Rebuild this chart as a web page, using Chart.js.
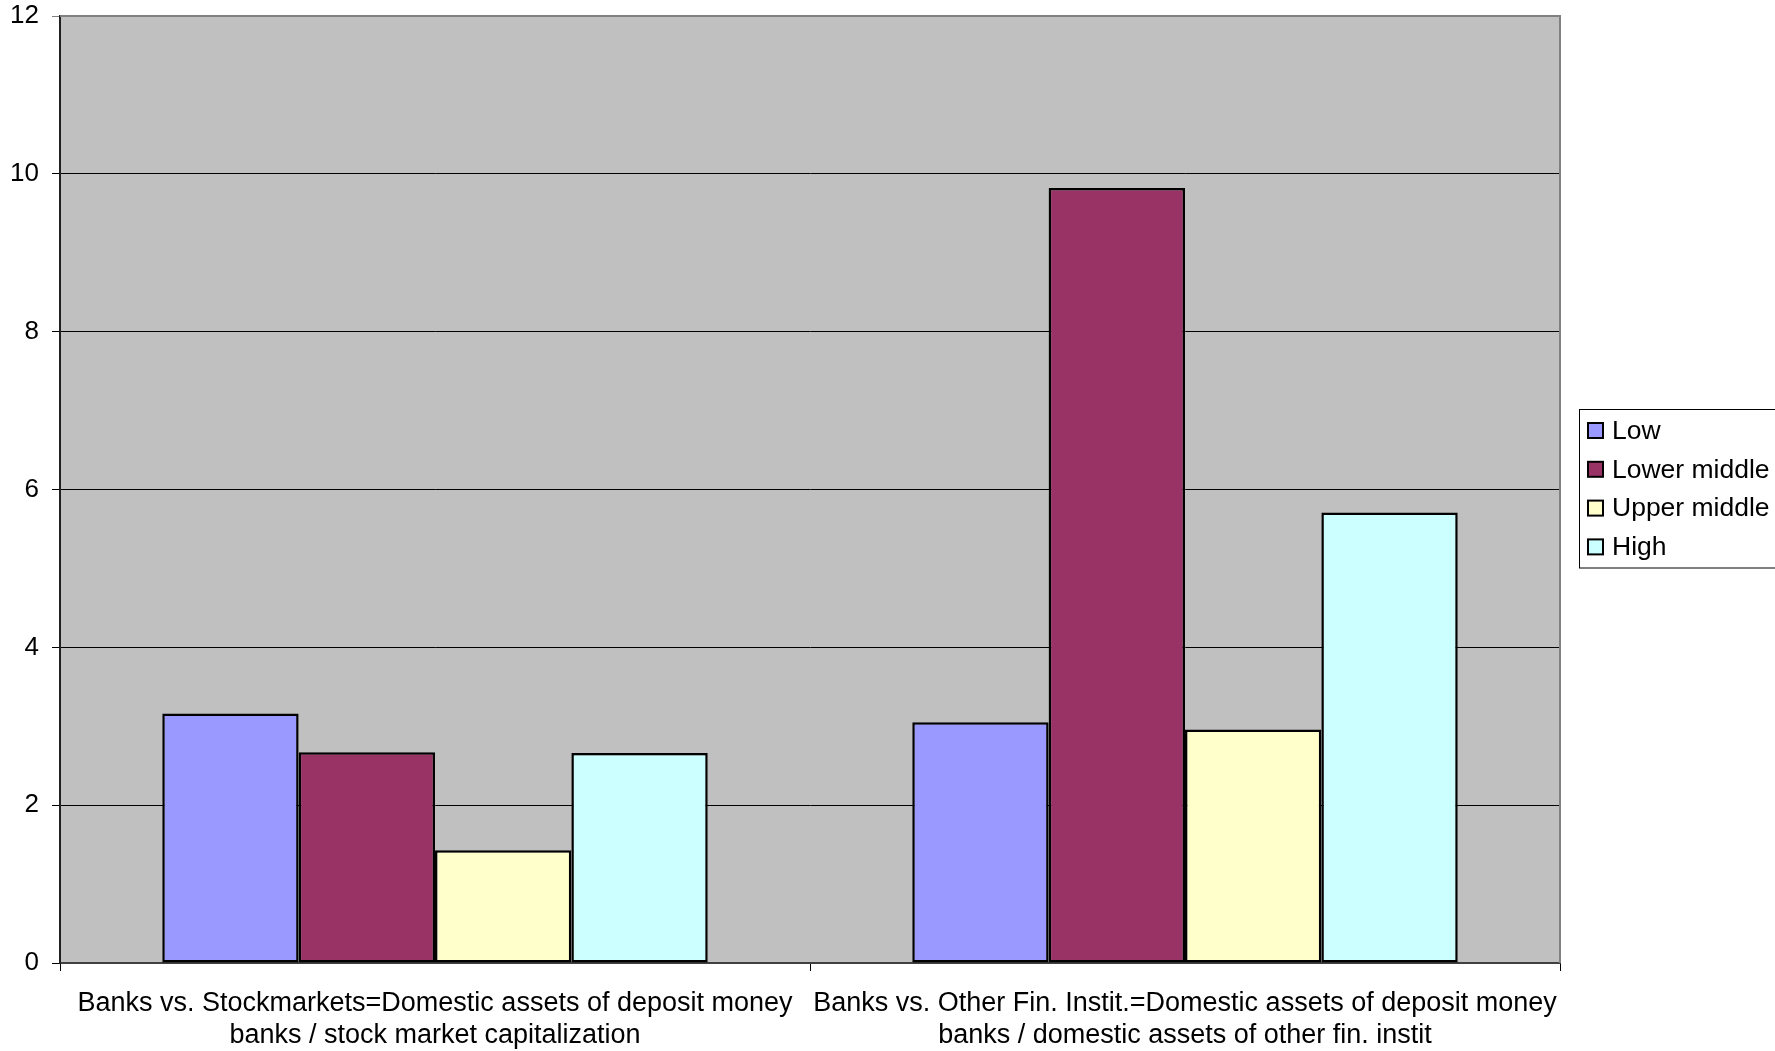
<!DOCTYPE html>
<html>
<head>
<meta charset="utf-8">
<script src="https://cdn.jsdelivr.net/npm/chart.js@4"></script>
<style>
html,body{margin:0;padding:0;background:#fff;}
canvas{display:block;}
</style>
</head>
<body>
<canvas id="c" width="1775" height="1051"></canvas>
<script>
const categories = [
  ["Banks vs. Stockmarkets=Domestic assets of deposit money", "banks / stock market capitalization"],
  ["Banks vs. Other Fin. Instit.=Domestic assets of deposit money", "banks / domestic assets of other fin. instit"]
];
const seriesNames = ["Low", "Lower middle", "Upper middle", "High"];
const lowValues = [3.16, 3.05];
const lowerMiddleValues = [2.67, 9.82];
const upperMiddleValues = [1.43, 2.96];
const highValues = [2.66, 5.71];
const yTicks = [0, 2, 4, 6, 8, 10, 12];

const colors = ["#9999FF", "#993366", "#FFFFCC", "#CCFFFF"];
const FONT = "'Liberation Sans', Arial, sans-serif";

const plotBg = {
  id: 'plotBg',
  beforeDraw(chart) {
    const {ctx, chartArea: a} = chart;
    ctx.save();
    ctx.fillStyle = '#C0C0C0';
    ctx.fillRect(a.left, a.top, a.right - a.left, a.bottom - a.top);
    ctx.restore();
  },
  afterDatasetsDraw(chart) {
    const {ctx, chartArea: a} = chart;
    ctx.save();
    ctx.strokeStyle = '#808080';
    ctx.lineWidth = 2;
    ctx.beginPath();
    ctx.moveTo(a.left, a.top);
    ctx.lineTo(a.right, a.top);
    ctx.lineTo(a.right, a.bottom);
    ctx.stroke();
    ctx.restore();
  }
};

const boxLegend = {
  id: 'boxLegend',
  afterDraw(chart) {
    const ctx = chart.ctx;
    const ds = chart.data.datasets;
    const left = 1579, top = 409.5, bottom = 568, right = 1790;
    ctx.save();
    ctx.strokeStyle = '#000';
    ctx.lineWidth = 1;
    ctx.strokeRect(left + 0.5, top, right - left, bottom - top);
    ctx.font = "26.5px " + FONT;
    ctx.textBaseline = 'middle';
    ctx.textAlign = 'left';
    const y0 = 430.5, step = 38.8;
    ds.forEach((d, i) => {
      const y = y0 + i * step;
      ctx.fillStyle = d.backgroundColor;
      ctx.fillRect(1588, y - 7.5, 15, 15);
      ctx.lineWidth = 2;
      ctx.strokeStyle = '#000';
      ctx.strokeRect(1588, y - 7.5, 15, 15);
      ctx.fillStyle = '#000';
      ctx.fillText(d.label, 1612, y + 1);
    });
    ctx.restore();
  }
};

const valueSets = [lowValues, lowerMiddleValues, upperMiddleValues, highValues];

new Chart(document.getElementById('c'), {
  type: 'bar',
  data: {
    labels: categories,
    datasets: seriesNames.map((n, i) => ({
      label: n,
      data: valueSets[i],
      backgroundColor: colors[i],
      borderColor: '#000',
      borderWidth: 2.5,
      borderSkipped: false,
      barPercentage: 1,
      categoryPercentage: 4 / 5.5
    }))
  },
  options: {
    responsive: false,
    animation: false,
    devicePixelRatio: 1,
    layout: { padding: { left: 0, right: 215, top: 16, bottom: 0 } },
    plugins: {
      legend: { display: false },
      tooltip: { enabled: false }
    },
    scales: {
      x: {
        afterFit(scale) { scale.height = 88; scale.paddingLeft = 0; scale.paddingRight = 0; },
        grid: {
          offset: true,
          drawOnChartArea: false,
          drawTicks: true,
          tickLength: 8,
          color: '#000',
          lineWidth: 1
        },
        border: { display: true, color: '#404040', width: 2 },
        ticks: {
          color: '#000',
          padding: 16,
          maxRotation: 0,
          autoSkip: false,
          font: { family: FONT, size: 27, lineHeight: 1.2 }
        }
      },
      y: {
        min: 0,
        max: 12,
        afterFit(scale) { scale.width = 60; scale.paddingTop = 0; scale.paddingBottom = 0; },
        afterBuildTicks(scale) { scale.ticks = yTicks.map(v => ({ value: v })); },
        grid: {
          color: (c) => (c.tick && c.tick.value === 12) ? '#808080' : '#000',
          lineWidth: 1,
          tickLength: 8,
          drawTicks: true
        },
        border: { display: true, color: '#202020', width: 2 },
        ticks: {
          color: '#000',
          padding: 13,
          font: { family: FONT, size: 26 }
        }
      }
    }
  },
  plugins: [plotBg, boxLegend]
});
</script>
</body>
</html>
